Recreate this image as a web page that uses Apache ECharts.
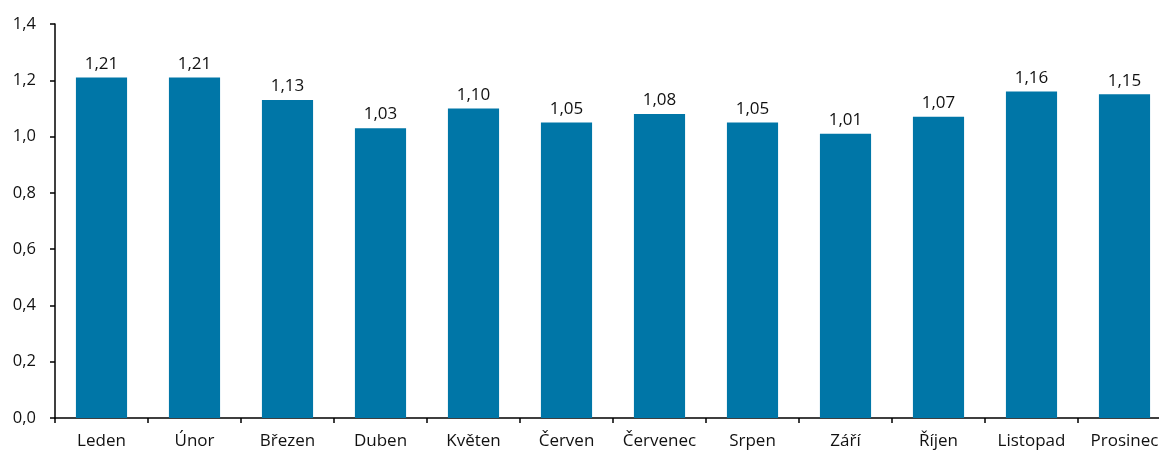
<!DOCTYPE html>
<html>
<head>
<meta charset="utf-8">
<script src="https://cdn.jsdelivr.net/npm/echarts@6/dist/echarts.min.js"></script>
<style>
  html, body { margin: 0; padding: 0; background: #fff; overflow: hidden; }
  #chart { width: 1171px; height: 450px; }
</style>
</head>
<body>
<div id="chart"></div>
<script>
// Monthly index values
const months = ['Leden', 'Únor', 'Březen', 'Duben', 'Květen', 'Červen', 'Červenec', 'Srpen', 'Září', 'Říjen', 'Listopad', 'Prosinec'];
const values = [1.21, 1.21, 1.13, 1.03, 1.10, 1.05, 1.08, 1.05, 1.01, 1.07, 1.16, 1.15];

const fmt = v => v.toFixed(2).replace('.', ',');
const fontFamily = '"Open Sans", "Noto Sans", sans-serif';

const chart = echarts.init(document.getElementById('chart'), null, { renderer: 'canvas' });
chart.setOption({
  animation: false,
  grid: { left: 55, right: 0, top: 24, bottom: 32, containLabel: false },
  xAxis: {
    type: 'category',
    data: months,
    axisLine: { lineStyle: { color: '#000', width: 1.5 } },
    axisTick: { show: true, interval: 0, length: 5, lineStyle: { color: '#000', width: 1.5 } },
    axisLabel: { interval: 0, hideOverlap: false, color: '#111', fontSize: 17, fontFamily, margin: 15 }
  },
  yAxis: {
    type: 'value',
    min: 0,
    max: 1.4,
    interval: 0.2,
    axisLine: { show: true, lineStyle: { color: '#000', width: 1.5 } },
    axisTick: { show: true, length: 5, lineStyle: { color: '#000', width: 1.5 } },
    splitLine: { show: false },
    axisLabel: { color: '#111', fontSize: 16.5, fontFamily, margin: 19, formatter: v => v.toFixed(1).replace('.', ',') }
  },
  series: [{
    type: 'bar',
    data: values,
    barWidth: '55%',
    itemStyle: { color: '#0076A7' },
    label: {
      show: true,
      position: 'top',
      distance: 5,
      color: '#111',
      fontSize: 17,
      fontFamily,
      formatter: p => fmt(p.value)
    }
  }]
});
</script>
</body>
</html>
